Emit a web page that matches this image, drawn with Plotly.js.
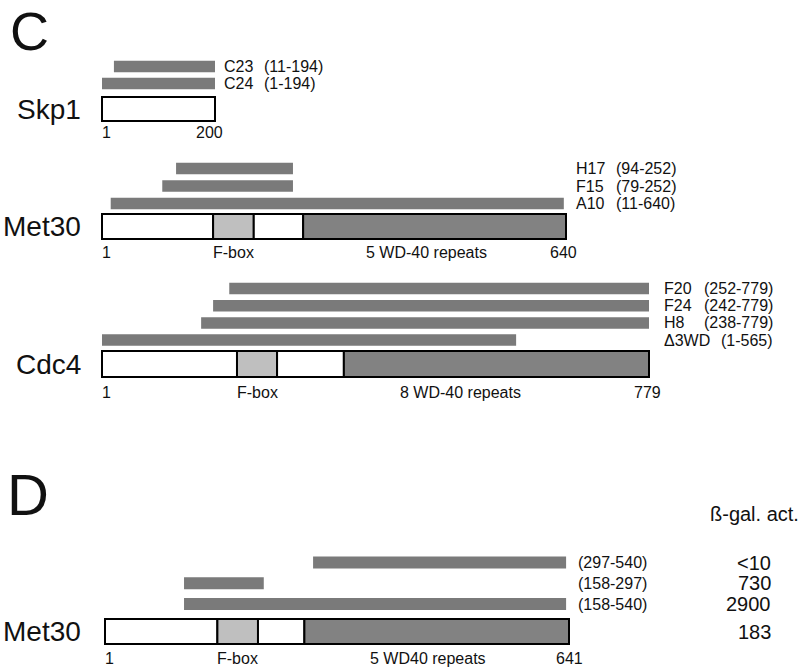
<!DOCTYPE html>
<html>
<head>
<meta charset="utf-8">
<script src="https://cdn.plot.ly/plotly-3.0.1.min.js"></script>
<style>
html,body{margin:0;padding:0;background:#ffffff;}
#chart{width:800px;height:668px;}
</style>
</head>
<body>
<div id="chart"></div>
<script>
// ---------------- DATA ----------------
const panelLetters = ["C", "D"];
const proteinNames = ["Skp1", "Met30", "Cdc4", "Met30"];
const proteinLengths = [200, 640, 779, 641];
const fboxStart = [null, 154, 193, 156];
const fboxEnd = [null, 210, 250, 212];
const wdStart = [null, 278, 345, 276];
const wdLabels = ["", "5 WD-40 repeats", "8 WD-40 repeats", "5 WD40 repeats"];

const skp1Constructs = ["C23", "C24"];
const skp1Ranges = ["(11-194)", "(1-194)"];
const skp1BarStart = [22, 1];
const skp1BarEnd = [200, 200];

const met30Constructs = ["H17", "F15", "A10"];
const met30Ranges = ["(94-252)", "(79-252)", "(11-640)"];
const met30BarStart = [103, 84, 13];
const met30BarEnd = [264, 264, 637];

const cdc4Constructs = ["F20", "F24", "H8", "\u03943WD"];
const cdc4Ranges = ["(252-779)", "(242-779)", "(238-779)", "(1-565)"];
const cdc4BarStart = [182, 159, 142, 1];
const cdc4BarEnd = [779, 779, 779, 590];

const met30dRanges = ["(297-540)", "(158-297)", "(158-540)"];
const met30dBarStart = [288, 110, 110];
const met30dBarEnd = [637, 220, 637];

const betaGalHeader = "\u00DF-gal. act.";
const betaGalValues = ["<10", "730", "2900", "183"]; // last = full-length Met30

// ---------------- LAYOUT / STYLE ----------------
const W = 800, H = 668;
const FONT = "Liberation Sans, Arial, Helvetica, sans-serif";
const BAR_COLOR = "#7a7a7a";
const FBOX_COLOR = "#bfbfbf";
const WD_COLOR = "#828282";

const panelGeom = [
  {leftPx:102, rightPx:215, topPx:66.5,  pitch:17,    boxGap:1.5,  barH:11.5, boxH:24, labelShift:8,  tickGap:11, endShift:-6, wdLabelX:null},
  {leftPx:102, rightPx:566, topPx:168.5, pitch:17.5,  boxGap:1.31, barH:11.5, boxH:25, labelShift:9,  tickGap:14, endShift:-3, wdLabelX:448},
  {leftPx:102, rightPx:649, topPx:288.5, pitch:17.2,  boxGap:1.39, barH:11.5, boxH:26, labelShift:14, tickGap:15, endShift:-2, wdLabelX:511},
  {leftPx:105, rightPx:569, topPx:562.5, pitch:20.75, boxGap:1.33, barH:12,   boxH:25, labelShift:8,  tickGap:14, endShift:0,  wdLabelX:447}
];

const panelData = [
  {names: skp1Constructs, ranges: skp1Ranges, start: skp1BarStart, end: skp1BarEnd},
  {names: met30Constructs, ranges: met30Ranges, start: met30BarStart, end: met30BarEnd},
  {names: cdc4Constructs, ranges: cdc4Ranges, start: cdc4BarStart, end: cdc4BarEnd},
  {names: null, ranges: met30dRanges, start: met30dBarStart, end: met30dBarEnd}
];

// text width helper (for label column spacing)
const ctx = document.createElement("canvas").getContext("2d");
ctx.font = "16px 'Liberation Sans'";
function textW(s){ return ctx.measureText(s).width; }

const traces = [];
const annotations = [];
const layout = {
  width: W, height: H,
  margin: {l:0, r:0, t:0, b:0, pad:0},
  paper_bgcolor: "#ffffff",
  plot_bgcolor: "rgba(0,0,0,0)",
  showlegend: false,
  barmode: "overlay",
  hovermode: false,
  font: {family: FONT, color: "#111111", size: 16}
};

function txt(o){
  return Object.assign({showarrow:false, borderpad:0, font:{family:FONT, size:16, color:"#111111"}}, o);
}

panelGeom.forEach((g, p) => {
  const sfx = p === 0 ? "" : String(p + 1);
  const xa = "x" + sfx, ya = "y" + sfx;
  const L = proteinLengths[p];
  const k = (g.rightPx - g.leftPx) / (L - 1);          // px per residue
  layout["xaxis" + sfx] = {
    domain:[0,1], range:[1 - g.leftPx / k, 1 + (W - g.leftPx) / k],
    visible:false, fixedrange:true, anchor: ya
  };
  layout["yaxis" + sfx] = {
    domain:[0,1], range:[(H - g.topPx) / g.pitch, -g.topPx / g.pitch],
    visible:false, fixedrange:true, anchor: xa
  };

  const d = panelData[p];
  const n = d.start.length;
  const rows = d.start.map((_, i) => i);
  const boxRow = (n - 1) + g.boxGap;

  // construct bars
  traces.push({
    type:"bar", orientation:"h", xaxis:xa, yaxis:ya,
    y: rows, base: d.start, x: d.start.map((s, i) => d.end[i] - s),
    width: g.barH / g.pitch,
    marker:{color: BAR_COLOR, line:{width:0}},
    hoverinfo:"skip"
  });

  // protein box (segments)
  let segStart, segEnd, segColor;
  if (fboxStart[p] == null) {
    segStart = [1]; segEnd = [L]; segColor = ["#ffffff"];
  } else {
    segStart = [1, fboxStart[p], fboxEnd[p], wdStart[p]];
    segEnd = [fboxStart[p], fboxEnd[p], wdStart[p], L];
    segColor = ["#ffffff", FBOX_COLOR, "#ffffff", WD_COLOR];
  }
  traces.push({
    type:"bar", orientation:"h", xaxis:xa, yaxis:ya,
    y: segStart.map(() => boxRow), base: segStart, x: segStart.map((s, i) => segEnd[i] - s),
    width: g.boxH / g.pitch,
    marker:{color: segColor, line:{color:"#000000", width:2}},
    hoverinfo:"skip"
  });

  // construct labels
  d.ranges.forEach((r, i) => {
    let rangeShift = g.labelShift;
    if (d.names) {
      annotations.push(txt({xref:xa, yref:ya, x:L, y:i, xanchor:"left", yanchor:"middle",
        xshift:g.labelShift, text:d.names[i]}));
      rangeShift = g.labelShift + Math.max(40, textW(d.names[i]) + 11);
    }
    annotations.push(txt({xref:xa, yref:ya, x:L, y:i, xanchor:"left", yanchor:"middle",
      xshift:rangeShift, text:r}));
  });

  // protein name
  annotations.push(txt({xref:"paper", yref:ya, x:82 / W, y:boxRow, xanchor:"right", yanchor:"middle",
    text:proteinNames[p], font:{family:FONT, size:28, color:"#111111"}}));

  // ends "1" and length
  const tickShift = -(g.boxH / 2 + g.tickGap);
  annotations.push(txt({xref:xa, yref:ya, x:1, y:boxRow, xanchor:"left", yanchor:"middle",
    xshift:-1, yshift:tickShift, text:"1"}));
  annotations.push(txt({xref:xa, yref:ya, x:L, y:boxRow, xanchor:"center", yanchor:"middle",
    xshift:g.endShift, yshift:tickShift, text:String(L)}));

  // domain labels
  if (fboxStart[p] != null) {
    annotations.push(txt({xref:xa, yref:ya, x:(fboxStart[p] + fboxEnd[p]) / 2, y:boxRow,
      xanchor:"center", yanchor:"middle", yshift:tickShift, text:"F-box"}));
    annotations.push(txt({xref:xa, yref:ya, x:g.wdLabelX, y:boxRow,
      xanchor:"center", yanchor:"middle", yshift:tickShift, text:wdLabels[p]}));
  }

  // beta-gal values for panel D
  if (p === 3) {
    betaGalValues.forEach((v, i) => {
      annotations.push(txt({xref:"paper", yref:ya, x:772 / W, y: i < n ? i : boxRow,
        xanchor:"right", yanchor:"middle", text:v, font:{family:FONT, size:20, color:"#111111"}}));
    });
  }
});

// panel letters
annotations.push(txt({xref:"paper", yref:"paper", x:9 / W, y:1, xanchor:"left", yanchor:"top",
  text:panelLetters[0], font:{family:FONT, size:54, color:"#111111"}}));
annotations.push(txt({xref:"paper", yref:"paper", x:6 / W, y:1 - 494 / H, xanchor:"left", yanchor:"middle",
  text:panelLetters[1], font:{family:FONT, size:58, color:"#111111"}}));
// beta-gal header
annotations.push(txt({xref:"paper", yref:"paper", x:709 / W, y:1 - 514 / H, xanchor:"left", yanchor:"middle",
  text:betaGalHeader, font:{family:FONT, size:20, color:"#111111"}}));

layout.annotations = annotations;

Plotly.newPlot("chart", traces, layout, {staticPlot:true, displayModeBar:false});
</script>
</body>
</html>
